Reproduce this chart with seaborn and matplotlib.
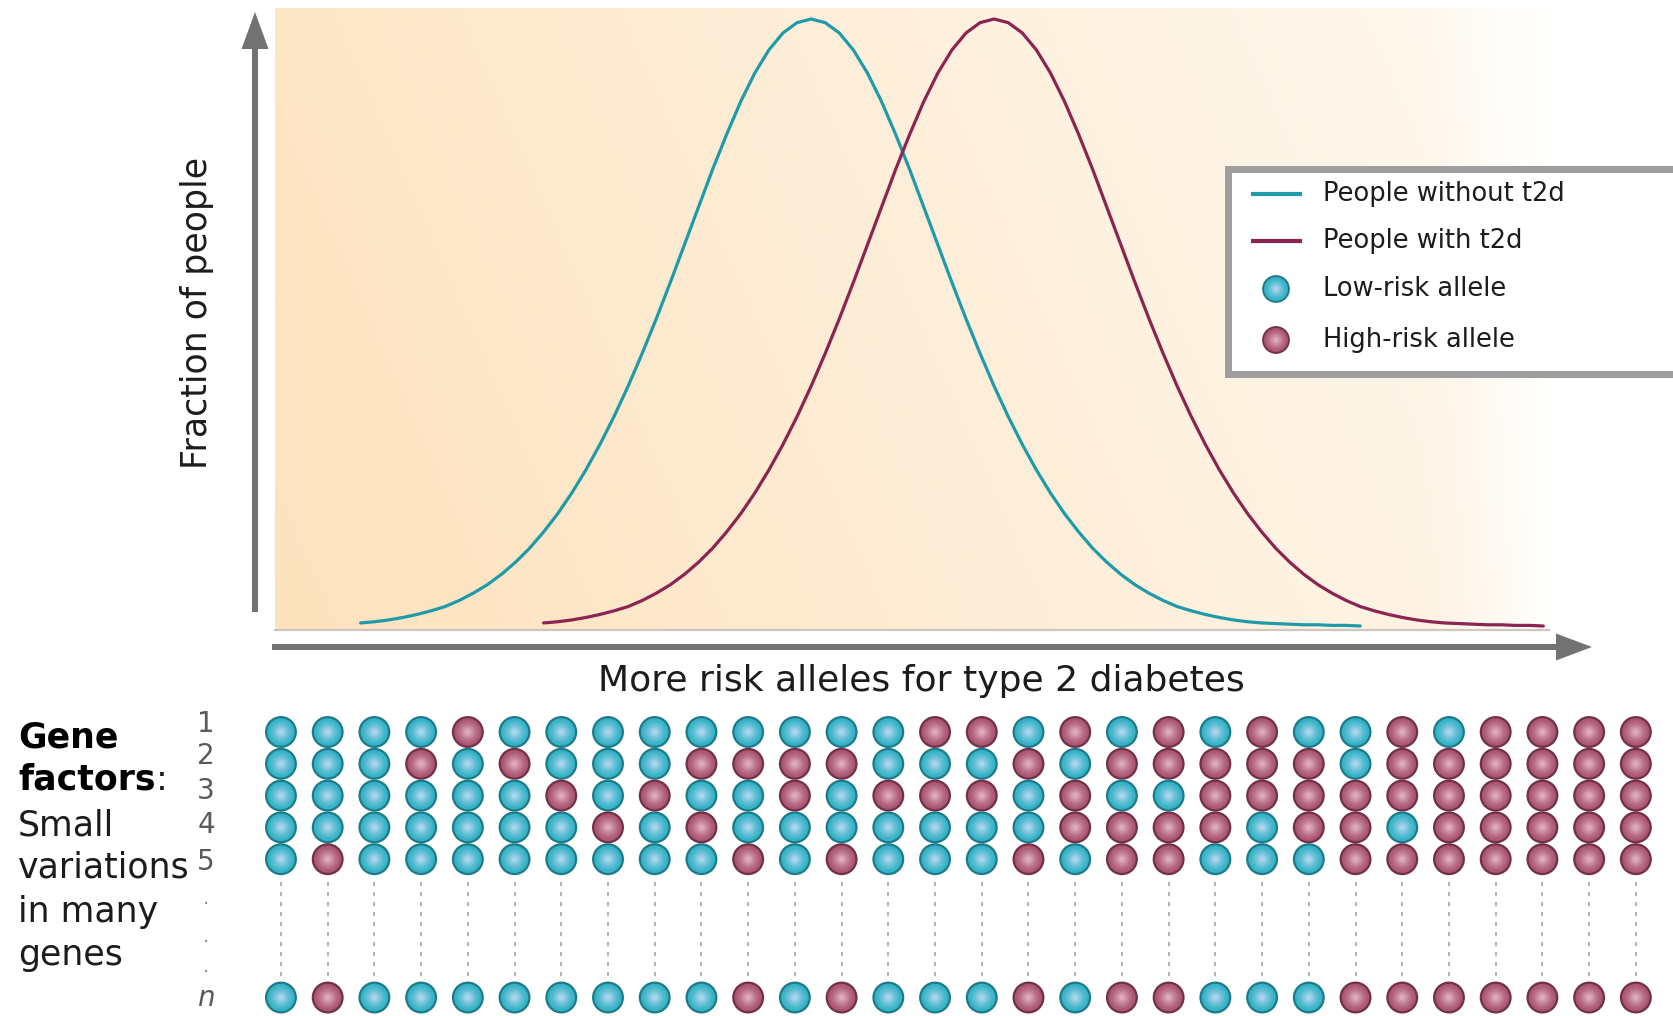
import numpy as np
import pandas as pd
import matplotlib
matplotlib.use("Agg")
import matplotlib.pyplot as plt
from matplotlib.colors import to_rgb
from matplotlib.patches import FancyArrow, Rectangle
import seaborn as sns

# ---------------------------------------------------------------------------
# Distribution of the risk-allele score in the two groups (relative height)
# ---------------------------------------------------------------------------
without_x = list(range(7, 79))
without_y = [0.005, 0.007, 0.010, 0.014, 0.019, 0.025, 0.032, 0.042, 0.054, 0.068,
             0.085, 0.105, 0.128, 0.155, 0.185, 0.219, 0.257, 0.299, 0.345, 0.395,
             0.449, 0.506, 0.566, 0.628, 0.690, 0.752, 0.810, 0.864, 0.911, 0.949,
             0.977, 0.994, 1.000, 0.994, 0.977, 0.949, 0.911, 0.864, 0.810, 0.752,
             0.690, 0.628, 0.566, 0.506, 0.449, 0.395, 0.345, 0.299, 0.257, 0.219,
             0.185, 0.155, 0.128, 0.105, 0.085, 0.068, 0.054, 0.042, 0.032, 0.025,
             0.019, 0.014, 0.010, 0.007, 0.005, 0.004, 0.003, 0.002, 0.002, 0.001,
             0.001, 0.000]

with_x = list(range(20, 92))
with_y = [0.005, 0.007, 0.010, 0.014, 0.019, 0.025, 0.032, 0.042, 0.054, 0.068,
          0.085, 0.105, 0.128, 0.155, 0.185, 0.219, 0.257, 0.299, 0.345, 0.395,
          0.449, 0.506, 0.566, 0.628, 0.690, 0.752, 0.810, 0.864, 0.911, 0.949,
          0.977, 0.994, 1.000, 0.994, 0.977, 0.949, 0.911, 0.864, 0.810, 0.752,
          0.690, 0.628, 0.566, 0.506, 0.449, 0.395, 0.345, 0.299, 0.257, 0.219,
          0.185, 0.155, 0.128, 0.105, 0.085, 0.068, 0.054, 0.042, 0.032, 0.025,
          0.019, 0.014, 0.010, 0.007, 0.005, 0.004, 0.003, 0.002, 0.002, 0.001,
          0.001, 0.000]

group_labels = ["People without t2d", "People with t2d"]

# ---------------------------------------------------------------------------
# Allele make-up of 30 example people (L = low-risk, H = high-risk)
# ---------------------------------------------------------------------------
gene_labels = ["1", "2", "3", "4", "5", "n"]
gene_1 = "LLLLHLLLLLLLLLHHLHLHLHLLHLHHHH"
gene_2 = "LLLHLHLLLHHHHLLLHLHHHHHLHHHHHH"
gene_3 = "LLLLLLHLHLLHLHHHLHLLHHHHHHHHHH"
gene_4 = "LLLLLLLHLHLLLLLLLHHHHLHHLHHHHH"
gene_5 = "LHLLLLLLLLHLHLLLHLHHLLLHHHHHHH"
gene_n = "LHLLLLLLLLHLHLLLHLHHLLLHHHHHHH"
allele_names = {"L": "Low-risk allele", "H": "High-risk allele"}

# ---------------------------------------------------------------------------
# Styling
# ---------------------------------------------------------------------------
sns.set_style("white")
plt.rcParams["font.family"] = ["DejaVu Sans"]

TEAL = "#1f9aa8"
MAROON = "#8c2452"
ARROW = "#727272"
TEXT = "#1c1c1c"

# ring, body and highlight colour of the shaded allele balls
SPHERE = {
    "Low-risk allele": ("#1d7b89", "#35b2c6", "#a9d4ec"),
    "High-risk allele": ("#71304a", "#aa5670", "#dcaaba"),
}
LAYER_FRACS = [0.86, 0.76, 0.66, 0.56, 0.46, 0.36, 0.26, 0.16]

W, H = 1673, 1016
fig = plt.figure(figsize=(W / 100, H / 100), dpi=100)
fig.patch.set_facecolor("white")


def px_box(x0, y0, x1, y1):
    """Pixel box (origin top-left) -> figure-fraction rectangle."""
    return [x0 / W, 1 - y1 / H, (x1 - x0) / W, (y1 - y0) / H]


def shade(kind, k):
    body = np.array(to_rgb(SPHERE[kind][1]))
    hi = np.array(to_rgb(SPHERE[kind][2]))
    w = (k / (len(LAYER_FRACS) - 1)) ** 1.3
    return tuple(body * (1 - w) + hi * w)


def draw_spheres(ax, xs, ys, kinds, diameter, z=3):
    for k, frac in enumerate(LAYER_FRACS):
        cols = [shade(t, k) for t in kinds]
        ax.scatter(xs, ys, s=(diameter * frac) ** 2, c=cols, linewidths=0,
                   zorder=z + 1 + k, clip_on=False)


# ---------------------------------------------------------------------------
# Curve panel
# ---------------------------------------------------------------------------
ax = fig.add_axes(px_box(275, 8, 1549, 630))
x_lo, x_hi = (275 - 262) / 14.08, (1549 - 262) / 14.08
y_lo, y_hi = (626 - 630) / 607, (626 - 8) / 607

# soft peach wash that fades towards the right
gx = np.linspace(0, 1, 600)[None, :]
gy = np.linspace(1, 0, 300)[:, None]
t = np.clip(0.70 * gx + 0.15 * gy + 0.35 * np.clip((gx - 0.90) / 0.10, 0, 1) ** 1.5, 0, 1)
peach = np.array([253, 226, 189]) / 255
white = np.array([255, 254, 251]) / 255
wash = peach * (1 - t[..., None]) + white * t[..., None]
ax.imshow(wash, extent=[x_lo, x_hi, y_lo, y_hi], aspect="auto", origin="upper",
          interpolation="bilinear", zorder=0)

curves = pd.DataFrame({
    "score": without_x + with_x,
    "fraction": without_y + with_y,
    "group": [group_labels[0]] * len(without_x) + [group_labels[1]] * len(with_x),
})
sns.lineplot(data=curves, x="score", y="fraction", hue="group",
             palette={group_labels[0]: TEAL, group_labels[1]: MAROON},
             estimator=None, sort=False, linewidth=2.3, legend=False, ax=ax, zorder=2)
for ln in ax.lines:
    ln.set_solid_joinstyle("round")
ax.set_xlim(x_lo, x_hi)
ax.set_ylim(y_lo, y_hi)
ax.set_xticks([])
ax.set_yticks([])
ax.set_xlabel("")
ax.set_ylabel("")
for side in ["top", "right", "left"]:
    ax.spines[side].set_visible(False)
ax.spines["bottom"].set_color("#cdc7bf")
ax.spines["bottom"].set_linewidth(1.6)

# ---------------------------------------------------------------------------
# Allele grid
# ---------------------------------------------------------------------------
ax_g = fig.add_axes(px_box(257.6, 700, 1659.2, 1016))
row_pos = {"1": 1, "2": 2, "3": 3, "4": 4, "5": 5, "n": 9.35}
rows = {"1": gene_1, "2": gene_2, "3": gene_3, "4": gene_4, "5": gene_5, "n": gene_n}
recs = []
for g in gene_labels:
    for i, a in enumerate(rows[g]):
        recs.append({"person": i + 1, "gene": g, "pos": row_pos[g], "allele": allele_names[a]})
grid = pd.DataFrame(recs)

# dashed connectors for the genes that are not shown
ax_g.vlines(np.arange(1, 31), 5.72, 8.74, colors="#a5a5a5", linewidth=1.2,
            linestyles=(0, (2.5, 3.5)), zorder=1)

d_grid = 23.0
sns.scatterplot(data=grid, x="person", y="pos", hue="allele",
                palette={k: v[0] for k, v in SPHERE.items()},
                s=d_grid ** 2, linewidth=0, legend=False, ax=ax_g, zorder=3, clip_on=False)
draw_spheres(ax_g, grid["person"], grid["pos"], list(grid["allele"]), d_grid)
ax_g.set_xlim(0.5, 30.5)
ax_g.set_ylim(1 + (1016 - 732) / 31.8, 1 + (700 - 732) / 31.8)
ax_g.axis("off")

# ---------------------------------------------------------------------------
# Overlay: axes arrows, labels, legend
# ---------------------------------------------------------------------------
ax_o = fig.add_axes([0, 0, 1, 1], zorder=10)
ax_o.set_xlim(0, W)
ax_o.set_ylim(H, 0)
ax_o.axis("off")
ax_o.patch.set_alpha(0)

ax_o.add_patch(FancyArrow(255, 612, 0, -600, width=6, head_width=27, head_length=37,
                          length_includes_head=True, color=ARROW, linewidth=0))
ax_o.add_patch(FancyArrow(272, 647, 1320, 0, width=6, head_width=27, head_length=36,
                          length_includes_head=True, color=ARROW, linewidth=0))

ax_o.text(197, 313, "Fraction of people", rotation=90, fontsize=25, color=TEXT,
          ha="center", va="center")
ax_o.text(921, 681, "More risk alleles for type 2 diabetes", fontsize=26, color=TEXT,
          ha="center", va="center")

# left-hand caption
ax_o.text(18, 737, "Gene", fontsize=25, fontweight="bold", color="black", ha="left", va="center")
t_f = ax_o.text(18, 780, "factors", fontsize=25, fontweight="bold", color="black",
                ha="left", va="center")
ax_o.annotate(":", xy=(1, 0), xycoords=t_f, fontsize=25, color=TEXT, ha="left", va="bottom")
for yy, line in zip([825, 867, 912, 955], ["Small", "variations", "in many", "genes"]):
    ax_o.text(18, yy, line, fontsize=25, color=TEXT, ha="left", va="center")

# gene index labels
for yy, lab in zip([724, 756, 791, 825, 862], ["1", "2", "3", "4", "5"]):
    ax_o.text(206, yy, lab, fontsize=20, color="#5a5a5a", ha="center", va="center")
for yy in [898, 936, 967]:
    ax_o.text(206, yy, ".", fontsize=14, color="#8a8a8a", ha="center", va="center")
ax_o.text(206, 998, "n", fontsize=20, style="italic", color="#5a5a5a", ha="center", va="center")

# legend box
ax_o.add_patch(Rectangle((1228.5, 168.5), 600, 205, facecolor="white",
                         edgecolor="#9e9e9e", linewidth=5, zorder=5))
ax_o.plot([1251, 1302], [194, 194], color=TEAL, linewidth=3, zorder=6, solid_capstyle="butt")
ax_o.plot([1251, 1302], [241, 241], color=MAROON, linewidth=3, zorder=6, solid_capstyle="butt")
leg_kinds = ["Low-risk allele", "High-risk allele"]
ax_o.scatter([1276, 1276], [289, 340], s=20.0 ** 2,
             c=[SPHERE[k][0] for k in leg_kinds], linewidths=0, zorder=6)
draw_spheres(ax_o, [1276, 1276], [289, 340], leg_kinds, 20.0, z=6)
for yy, lab in zip([194, 241, 289, 340], group_labels + leg_kinds):
    ax_o.text(1323, yy, lab, fontsize=18.5, color=TEXT, ha="left", va="center", zorder=20)

fig.savefig("out.png", dpi=100, facecolor="white")
